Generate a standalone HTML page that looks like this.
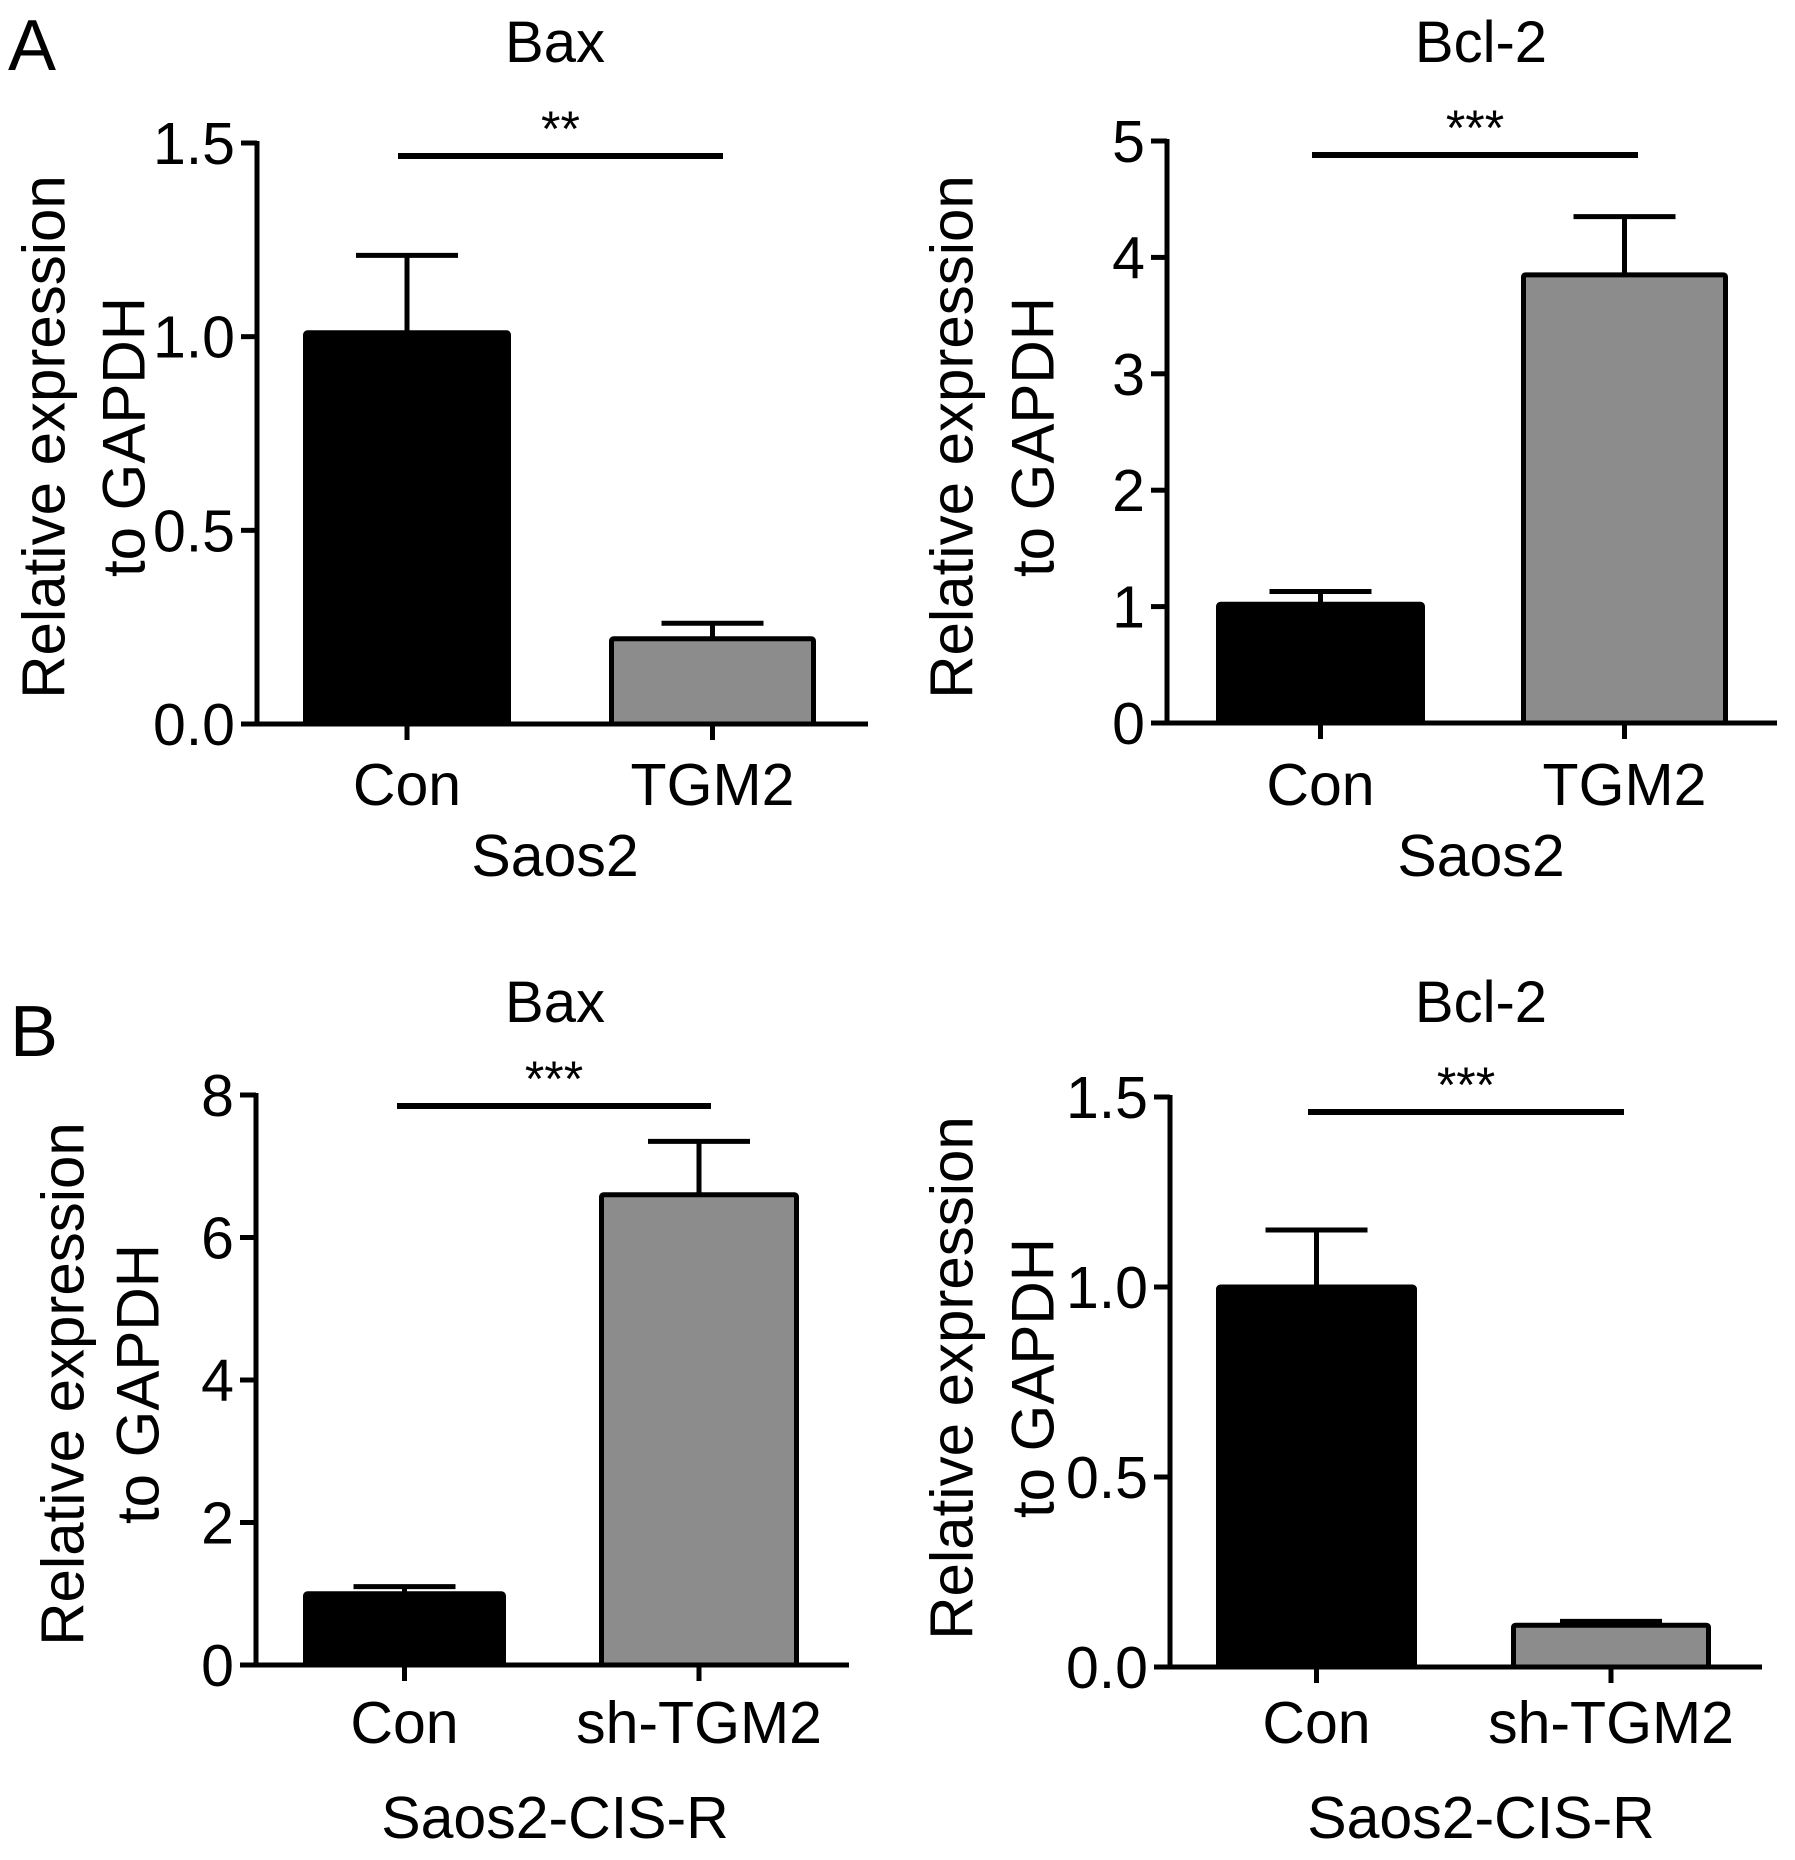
<!DOCTYPE html>
<html><head><meta charset="utf-8"><style>
html,body{margin:0;padding:0;background:#fff;}
svg{display:block;font-family:"Liberation Sans",Arial,sans-serif;}
</style></head><body>
<svg id="fig" width="1795" height="1860" viewBox="0 0 1795 1860" xmlns="http://www.w3.org/2000/svg">
<text x="8" y="70" font-size="72">A</text>
<text x="10" y="1056" font-size="72">B</text>
</svg>
<script>
// Data arrays
const titles = ["Bax", "Bcl-2", "Bax", "Bcl-2"];
const groupLabels = ["Saos2", "Saos2", "Saos2-CIS-R", "Saos2-CIS-R"];
const catsA = ["Con", "TGM2"];
const catsB = ["Con", "sh-TGM2"];
const meansBaxA = [1.01, 0.22];
const errTopBaxA = [1.21, 0.26];
const meansBcl2A = [1.02, 3.85];
const errTopBcl2A = [1.13, 4.35];
const meansBaxB = [1.0, 6.6];
const errTopBaxB = [1.1, 7.35];
const meansBcl2B = [1.0, 0.11];
const errTopBcl2B = [1.15, 0.12];
const ticksBaxA = ["0.0", "0.5", "1.0", "1.5"];
const ticksBcl2A = ["0", "1", "2", "3", "4", "5"];
const ticksBaxB = ["0", "2", "4", "6", "8"];
const ticksBcl2B = ["0.0", "0.5", "1.0", "1.5"];
const sigLabels = ["**", "***", "***", "***"];

const NS = "http://www.w3.org/2000/svg";
const svg = document.getElementById("fig");
function mk(tag, attrs, parent) {
  const e = document.createElementNS(NS, tag);
  for (const k in attrs) e.setAttribute(k, attrs[k]);
  (parent || svg).appendChild(e);
  return e;
}

const panels = [
  {ax:257, y0:724, yTop:143, xEnd:868, bars:[[303,511],[609,816]], sig:[398,723,156], tcx:555, tby:62, cy:805, gy:876, lx:[44,124], lcy:437, max:1.5, step:0.5, ticks:ticksBaxA, m:meansBaxA, e:errTopBaxA, cats:catsA},
  {ax:1167, y0:723, yTop:141, xEnd:1777, bars:[[1216,1425],[1521,1728]], sig:[1312,1638,155], tcx:1481, tby:62, cy:805, gy:876, lx:[952,1033], lcy:437, max:5, step:1, ticks:ticksBcl2A, m:meansBcl2A, e:errTopBcl2A, cats:catsA},
  {ax:256, y0:1665, yTop:1095, xEnd:849, bars:[[303,506],[599,799]], sig:[397,711,1106], tcx:555, tby:1022, cy:1743, gy:1838, lx:[63,138], lcy:1384, max:8, step:2, ticks:ticksBaxB, m:meansBaxB, e:errTopBaxB, cats:catsB},
  {ax:1170, y0:1667, yTop:1097, xEnd:1762, bars:[[1216,1417],[1511,1711]], sig:[1308,1624,1112], tcx:1481, tby:1022, cy:1743, gy:1838, lx:[952,1033], lcy:1378, max:1.5, step:0.5, ticks:ticksBcl2B, m:meansBcl2B, e:errTopBcl2B, cats:catsB}
];

panels.forEach((p, i) => {
  const g = mk("g", {});
  
  
  const y = v => p.y0 - (v / p.max) * (p.y0 - p.yTop);

  const t = mk("text", {x:p.tcx, y:p.tby, "font-size":58, "text-anchor":"middle"}, g);
  t.textContent = titles[i];
  
  

  p.m.forEach((v, j) => {
    const [x1, x2] = p.bars[j];
    const cx = (x1 + x2) / 2;
    const eb = mk("path", {d:`M${cx},${y(v)} V${y(p.e[j])} M${cx-51},${y(p.e[j])} H${cx+51}`, stroke:"#000", "stroke-width":5, fill:"none"}, g);
    
    
    const r = mk("rect", {x:x1+2.5, y:y(v), width:x2-x1-5, height:p.y0-y(v), fill:j===0?"#000":"#8c8c8c", stroke:"#000", "stroke-width":5, rx:2}, g);
    
    
    const tk = mk("line", {x1:cx, x2:cx, y1:p.y0, y2:p.y0+16, stroke:"#000", "stroke-width":5}, g);
    
    
    const lb = mk("text", {x:cx, y:p.cy, "font-size":59, "text-anchor":"middle"}, g);
    lb.textContent = p.cats[j];
    
    
  });

  const yaxis = mk("line", {x1:p.ax, x2:p.ax, y1:p.yTop-2, y2:p.y0+2.5, stroke:"#000", "stroke-width":5}, g);
  
  
  const xaxis = mk("line", {x1:p.ax-16, x2:p.xEnd, y1:p.y0, y2:p.y0, stroke:"#000", "stroke-width":5}, g);
  
  

  p.ticks.forEach((lab, k) => {
    const yy = y(k * p.step);
    const tl = mk("line", {x1:p.ax-16, x2:p.ax, y1:yy, y2:yy, stroke:"#000", "stroke-width":5}, g);
    
    
    const tx = mk("text", {x:p.ax-22, y:yy+21, "font-size":59, "text-anchor":"end"}, g);
    tx.textContent = lab;
    
    
  });

  const l1 = mk("text", {x:p.lx[0], y:p.lcy, "font-size":60, "text-anchor":"middle", "dominant-baseline":"central", transform:`rotate(-90 ${p.lx[0]} ${p.lcy})`}, g);
  l1.textContent = "Relative expression";
  
  
  const l2 = mk("text", {x:p.lx[1], y:p.lcy, "font-size":60, "text-anchor":"middle", "dominant-baseline":"central", transform:`rotate(-90 ${p.lx[1]} ${p.lcy})`}, g);
  l2.textContent = "to GAPDH";
  
  

  const gl = mk("text", {x:p.tcx, y:p.gy, "font-size":59, "text-anchor":"middle"}, g);
  gl.textContent = groupLabels[i];
  
  

  const sl = mk("line", {x1:p.sig[0], x2:p.sig[1], y1:p.sig[2], y2:p.sig[2], stroke:"#000", "stroke-width":6}, g);
  
  
  const st = mk("text", {x:(p.sig[0]+p.sig[1])/2, y:p.sig[2]-10, "font-size":50, "text-anchor":"middle"}, g);
  st.textContent = sigLabels[i];
  
  
});
</script>
</body></html>
